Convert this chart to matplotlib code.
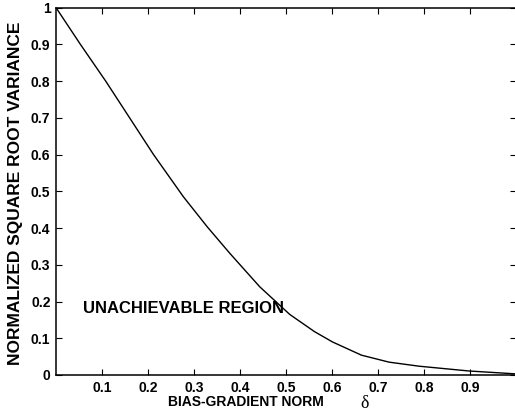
# Bias-gradient norm vs normalized square root variance
import numpy as np
from matplotlib import pyplot as plt

plt.rcParams['font.family'] = ['Liberation Sans', 'DejaVu Sans']

# curve
delta = [0, 0.053, 0.108, 0.160, 0.212, 0.277, 0.329, 0.378, 0.443, 0.508,
         0.562, 0.601, 0.664, 0.724, 0.789, 0.897, 1.0]
sigma = [1, 0.9, 0.8, 0.7, 0.6, 0.485, 0.403, 0.331, 0.240, 0.165,
         0.118, 0.090, 0.054, 0.035, 0.024, 0.011, 0.003]

xticks = [0.1, 0.2, 0.3, 0.4, 0.5, 0.6, 0.7, 0.8, 0.9]
yticks = [0, 0.1, 0.2, 0.3, 0.4, 0.5, 0.6, 0.7, 0.8, 0.9, 1]
ylabels = ['0', '0.1', '0.2', '0.3', '0.4', '0.5', '0.6', '0.7', '0.8', '0.9', '1']

fig = plt.figure(figsize=(5.15, 4.18), dpi=100)
ax = fig.add_axes([56/515, 1 - 375/418, 460/515, (375 - 7.6)/418])

ax.plot(delta, sigma, color='black', lw=1.0)
ax.set_xlim(0, 1)
ax.set_ylim(0, 1)

ax.set_xticks(xticks)
ax.set_xticklabels([str(t) for t in xticks], fontweight='bold', fontsize=10)
ax.set_yticks(yticks)
ax.set_yticklabels(ylabels, fontweight='bold', fontsize=10)
ax.tick_params(direction='in', length=4, width=0.8, top=True, right=True, pad=4)
for s in ax.spines.values():
    s.set_linewidth(1.1)

ax.text(0.058, 0.180, 'UNACHIEVABLE REGION', fontsize=12, fontweight='bold',
        transform=ax.transData, va='center')

fig.text(246/515, 1 - 402/418, 'BIAS-GRADIENT NORM', fontsize=10, fontweight='bold',
         ha='center', va='center')
fig.text(365/515, 1 - 403/418, 'δ', fontsize=13, ha='center', va='center',
         family='Liberation Serif')
fig.text(16/515, 1 - 193/418, 'NORMALIZED SQUARE ROOT VARIANCE', fontsize=12.5,
         fontweight='bold', rotation=90, ha='center', va='center')

plt.savefig('out.png', dpi=100)
